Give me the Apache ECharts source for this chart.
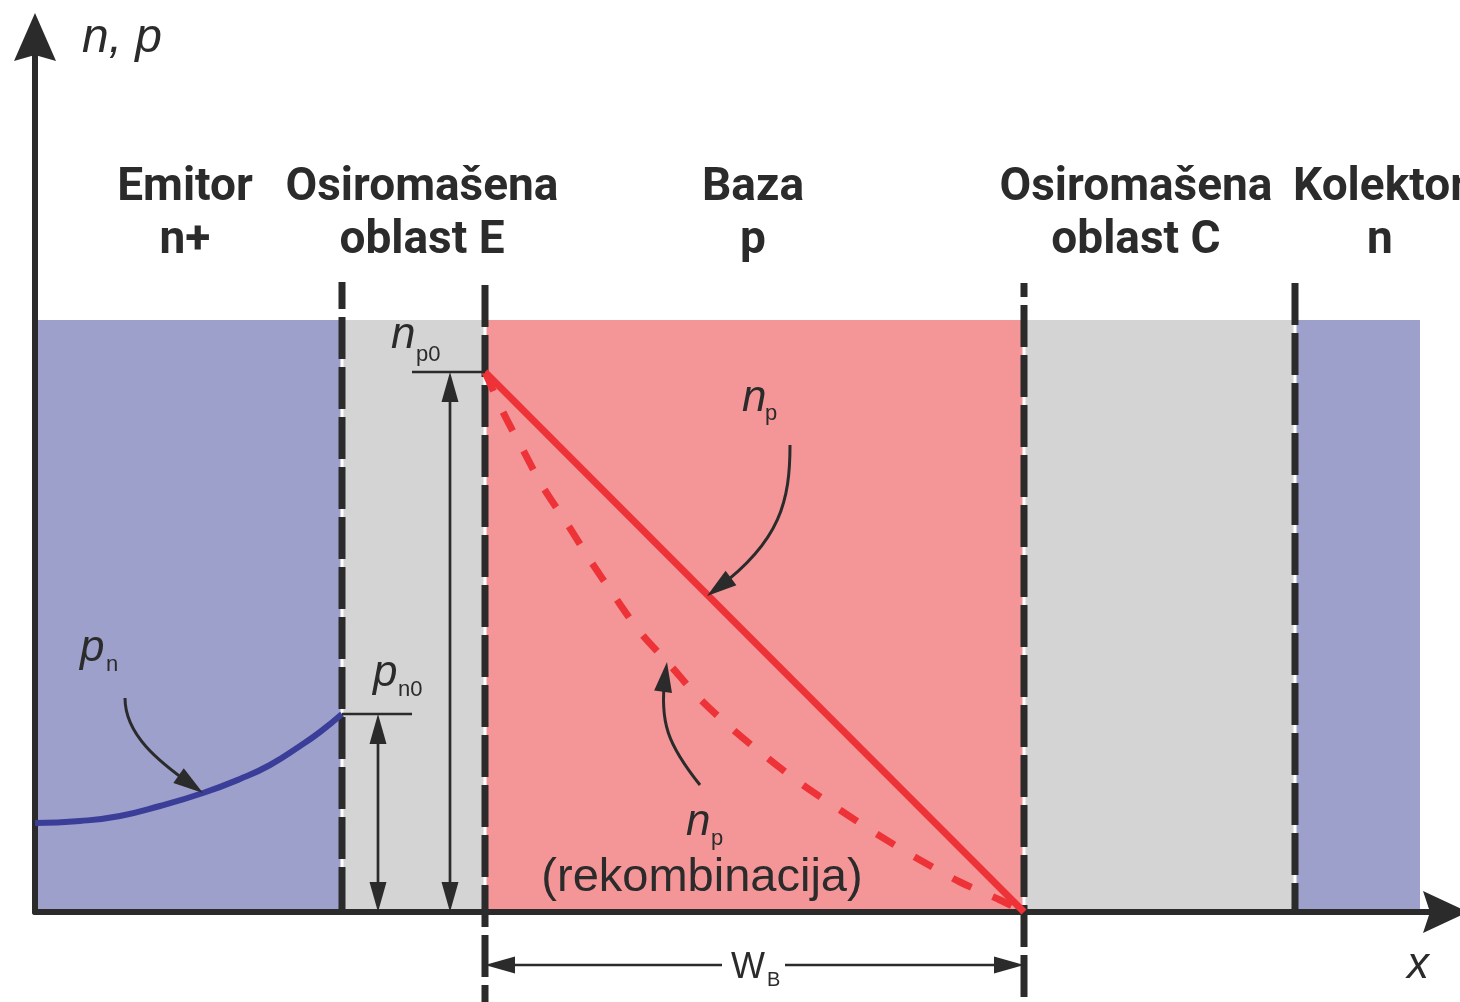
<!DOCTYPE html>
<html><head><meta charset="utf-8">
<script src="https://cdn.jsdelivr.net/npm/echarts@6/dist/echarts.min.js"></script>
<style>html,body{margin:0;padding:0;background:#fff}#c{width:1460px;height:1002px}</style>
</head><body><div id="c"></div>
<script>
// ---------------- data (x: position through the transistor, y: carrier concentration, arbitrary units) ----------------
const regionNames  = ['Emitor n+', 'Osiromašena oblast E', 'Baza p', 'Osiromašena oblast C', 'Kolektor n'];
const regionType   = ['n', 'd', 'p', 'd', 'n'];
const regionEdges  = [0, 307, 450, 989, 1260, 1385];
const regionTop    = 592;
const junctionX      = [307, 450, 989, 1260];
const junctionTop    = [630, 627, 629, 629];
const junctionBottom = [0, -90, -90, 0];
// minority holes in emitter p_n(x)
const pnX = [0, 45, 85, 125, 168, 205, 235, 265, 285, 307];
const pnY = [89, 91, 96, 106, 119, 133, 147, 166, 180, 198];
// electrons in base, no recombination (linear)
const npLinX = [450, 989];
const npLinY = [540, 0];
// electrons in base with recombination
const npRecX = [450, 468, 488, 508, 533, 555, 580, 605, 635, 663, 695, 725, 765, 805, 845, 885, 925, 965, 989];
const npRecY = [540, 500, 462, 425, 387, 352, 315, 280, 247, 215, 185, 160, 129, 102, 76, 52, 30, 12, 0];
const np0 = 540;   // n_p0
const pn0 = 198;   // p_n0
const WB  = [450, 989];
const X_MAX = 1395, Y_MAX = 857;

// ---------------- layout of annotations (data coordinates) ----------------
const INK = '#2b2b2b';
const regionColor = { n: '#9ea0cc', d: '#d4d4d4', p: '#f49697' };
const dashOffsets = [15, 0, 28, 0];
// [tipX, tipY, endX, endY, headAtStart, headAtEnd]
const straightArrows = [
  [415, np0, 415, 0, 1, 1],
  [343, pn0, 343, 0, 1, 1],
  [377, np0, WB[0], np0, 0, 0],
  [junctionX[0], pn0, 377, pn0, 0, 0],
  [WB[0], -53, 687, -53, 1, 0],
  [WB[1], -53, 750, -53, 1, 0]
];
// cubic curved pointers [sx, sy, c1x, c1y, c2x, c2y, ex, ey]
const curvedArrows = [
  [90, 214, 90, 177, 130, 146, 168, 119],
  [755, 467, 755, 412, 740, 367, 672, 316],
  [665, 127, 633, 167, 625, 197, 632, 250]
];
const IT = 'italic 44px "Liberation Sans"', SUB = '22px "Liberation Sans"', HB = 'bold 46px Roboto';
const labels = [
  { t: 'n, p', x: 47, y: 873, f: 'italic 48px "Liberation Sans"', a: 'left' },
  { t: 'Emitor\nn+', x: 150, y: 697, f: HB, a: 'center', lh: 53 },
  { t: 'Osiromašena\noblast E', x: 387, y: 697, f: HB, a: 'center', lh: 53 },
  { t: 'Baza\np', x: 718, y: 697, f: HB, a: 'center', lh: 53 },
  { t: 'Osiromašena\noblast C', x: 1101, y: 697, f: HB, a: 'center', lh: 53 },
  { t: 'Kolektor\nn', x: 1345, y: 697, f: HB, a: 'center', lh: 53 },
  { t: 'n', x: 356, y: 576.5, f: IT, a: 'left' },
  { t: 'p0', x: 381, y: 557, f: SUB, a: 'left' },
  { t: 'n', x: 707, y: 513.5, f: IT, a: 'left' },
  { t: 'p', x: 730, y: 498, f: SUB, a: 'left' },
  { t: 'p', x: 45, y: 263.5, f: IT, a: 'left' },
  { t: 'n', x: 71, y: 247, f: SUB, a: 'left' },
  { t: 'p', x: 338, y: 238.5, f: IT, a: 'left' },
  { t: 'n0', x: 363, y: 222, f: SUB, a: 'left' },
  { t: 'n', x: 651, y: 89.5, f: IT, a: 'left' },
  { t: 'p', x: 676, y: 73, f: SUB, a: 'left' },
  { t: '(rekombinacija)', x: 667, y: 34, f: '47px "Liberation Sans"', a: 'center' },
  { t: 'W', x: 696, y: -56, f: '36px "Liberation Sans"', a: 'left' },
  { t: 'B', x: 732, y: -68, f: '20px "Liberation Sans"', a: 'left' },
  { t: 'x', x: 1383, y: -53.5, f: IT, a: 'center' }
];

function head(tip, ux, uy, L, W) {
  return { type: 'polygon', shape: { points: [
    [tip[0], tip[1]],
    [tip[0] - ux * L - uy * W / 2, tip[1] - uy * L + ux * W / 2],
    [tip[0] - ux * L + uy * W / 2, tip[1] - uy * L - ux * W / 2]
  ] }, style: { fill: INK } };
}

const series = [];
// regions
series.push({
  type: 'custom', z: 1, silent: true,
  data: regionType.map((k, i) => [regionEdges[i], regionEdges[i + 1], i]),
  renderItem: (p, api) => {
    const a = api.coord([api.value(0), regionTop]);
    const b = api.coord([api.value(1), 0]);
    return { type: 'rect', shape: { x: a[0], y: a[1], width: b[0] - a[0], height: b[1] - a[1] },
      style: { fill: regionColor[regionType[api.value(2)]] } };
  }
});
// junction boundaries
junctionX.forEach((x, i) => {
  series.push({ type: 'line', z: 3, silent: true, symbol: 'none', clip: false,
    data: [[x, regionTop], [x, 0]], lineStyle: { color: '#ffffff', width: 3 } });
  series.push({ type: 'line', z: 4, silent: true, symbol: 'none', clip: false,
    data: [[x, junctionTop[i]], [x, junctionBottom[i]]],
    lineStyle: { color: INK, width: 7, type: [42, 8], dashOffset: dashOffsets[i], cap: 'butt' } });
});
// carrier curves
series.push({ name: 'p_n', type: 'line', z: 6, silent: true, symbol: 'none', clip: false, smooth: 0.5,
  data: pnX.map((x, i) => [x, pnY[i]]), lineStyle: { color: '#3a3e98', width: 6 } });
series.push({ name: 'n_p rekombinacija', type: 'line', z: 6, silent: true, symbol: 'none', clip: false, smooth: 0.3,
  data: npRecX.map((x, i) => [x, npRecY[i]]), lineStyle: { color: '#ee3338', width: 7, type: [21, 23], cap: 'butt' } });
series.push({ name: 'n_p', type: 'line', z: 6, silent: true, symbol: 'none', clip: false,
  data: npLinX.map((x, i) => [x, npLinY[i]]), lineStyle: { color: '#ee3338', width: 7 } });
// straight arrows / marker lines
series.push({
  type: 'custom', z: 7, silent: true, data: straightArrows,
  renderItem: (p, api) => {
    const a = api.coord([api.value(0), api.value(1)]);
    const b = api.coord([api.value(2), api.value(3)]);
    const len = Math.hypot(b[0] - a[0], b[1] - a[1]);
    const ux = (b[0] - a[0]) / len, uy = (b[1] - a[1]) / len;
    const L = 30, W = 17;
    const ch = [];
    const s = api.value(4) ? [a[0] + ux * 12, a[1] + uy * 12] : a;
    const e = api.value(5) ? [b[0] - ux * 12, b[1] - uy * 12] : b;
    ch.push({ type: 'line', shape: { x1: s[0], y1: s[1], x2: e[0], y2: e[1] }, style: { stroke: INK, lineWidth: 2.7 } });
    if (api.value(4)) ch.push(head(a, -ux, -uy, L, W));
    if (api.value(5)) ch.push(head(b, ux, uy, L, W));
    return { type: 'group', children: ch };
  }
});
// curved pointers
series.push({
  type: 'custom', z: 7, silent: true, data: curvedArrows,
  renderItem: (p, api) => {
    const v = i => api.coord([api.value(i), api.value(i + 1)]);
    const s = v(0), c1 = v(2), c2 = v(4), e = v(6);
    const len = Math.hypot(e[0] - c2[0], e[1] - c2[1]);
    const ux = (e[0] - c2[0]) / len, uy = (e[1] - c2[1]) / len;
    const back = 14;
    return { type: 'group', children: [
      { type: 'bezierCurve', shape: { x1: s[0], y1: s[1], cpx1: c1[0], cpy1: c1[1],
          cpx2: c2[0] - ux * back * 0.5, cpy2: c2[1] - uy * back * 0.5, x2: e[0] - ux * back, y2: e[1] - uy * back },
        style: { stroke: INK, lineWidth: 3, fill: 'none' } },
      head(e, ux, uy, 30, 18)
    ] };
  }
});
// axis arrowheads
series.push({
  type: 'custom', z: 9, silent: true, data: [[0, Y_MAX, 0], [X_MAX, 0, 1]],
  renderItem: (p, api) => {
    const o = api.coord([api.value(0), api.value(1)]);
    const pts = api.value(2) === 0
      ? [[0, -42], [21, 6], [0, 0], [-21, 6]]
      : [[38, 0], [-7, -21], [0, 0], [-7, 21]];
    return { type: 'polygon', shape: { points: pts.map(q => [o[0] + q[0], o[1] + q[1]]) }, style: { fill: INK } };
  }
});
// text labels
series.push({
  type: 'custom', z: 10, silent: true, data: labels.map((l, i) => [l.x, l.y, i]),
  renderItem: (p, api) => {
    const l = labels[api.value(2)];
    const q = api.coord([l.x, l.y]);
    return { type: 'text', x: q[0], y: q[1], style: { text: l.t, font: l.f, fill: INK, align: l.a,
      verticalAlign: 'middle', lineHeight: l.lh || undefined } };
  }
});

const axisCommon = {
  type: 'value', z: 5,
  axisLine: { show: true, lineStyle: { color: INK, width: 6 } },
  axisTick: { show: false }, axisLabel: { show: false }, splitLine: { show: false }
};
const chart = echarts.init(document.getElementById('c'), null, { renderer: 'canvas' });
chart.setOption({
  animation: false,
  backgroundColor: '#ffffff',
  grid: { left: 35, right: 30, top: 55, bottom: 90 },
  xAxis: Object.assign({ min: 0, max: X_MAX }, axisCommon),
  yAxis: Object.assign({ min: 0, max: Y_MAX }, axisCommon),
  series: series
});
</script></body></html>
